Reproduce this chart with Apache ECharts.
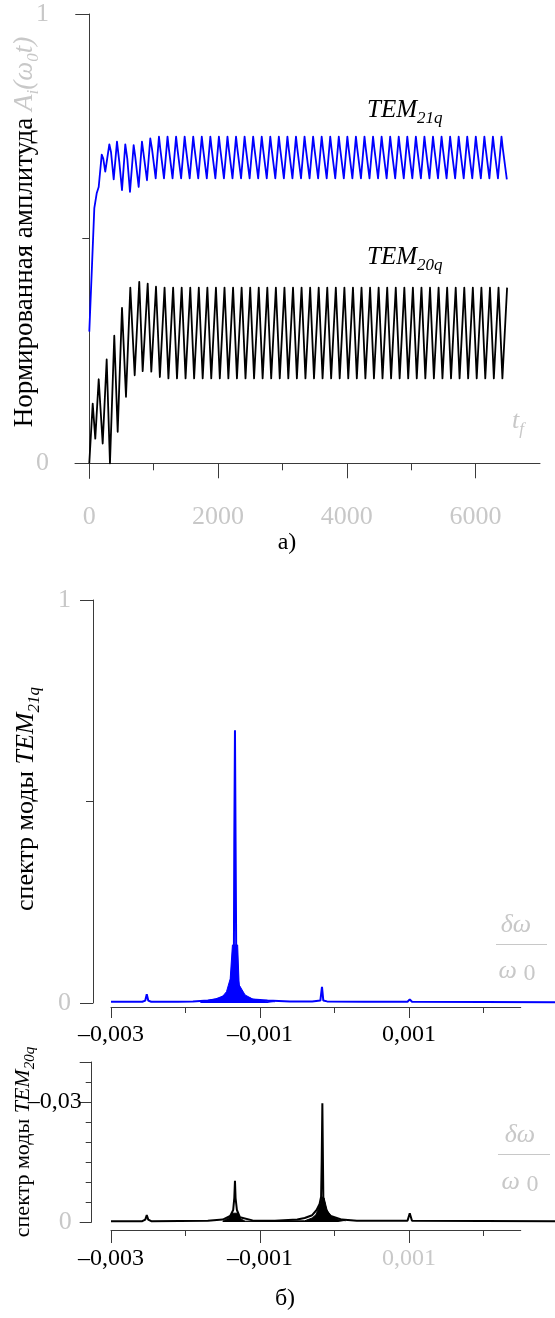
<!DOCTYPE html>
<html lang="ru">
<head>
<meta charset="UTF-8">
<title>Нормированная амплитуда и спектры мод</title>
<script src="https://cdn.jsdelivr.net/npm/echarts@6.0.0/dist/echarts.min.js"></script>
<style>
  html, body { margin: 0; padding: 0; background: #fff; }
  #chart { width: 555px; height: 1318px; }
</style>
</head>
<body>
<div id="chart"></div>
<script>
// а) normalised amplitude vs time, [t, A]
var tem21q = [
  [0,0.293],[42,0.440],[78,0.568],[115,0.601],[146,0.615],[193,0.687],[217,0.678],[248,0.649],[270,0.652],
  [311,0.710],[337,0.693],[379,0.632],[430,0.716],[466,0.671],[508,0.608],[559,0.710],[590,0.678],[632,0.604],
  [689,0.708],[714,0.682],[730,0.678],[767,0.615],[818,0.716],[839,0.693],[860,0.690],[896,0.630],
  [947,0.723],[974,0.700],[1000,0.697],[1031,0.634],
  [1082,0.727],[1102,0.701],[1118,0.705],[1160,0.634],
  [1215,0.727],[1235,0.701],[1251,0.705],[1293,0.634],
  [1348,0.727],[1368,0.701],[1384,0.705],[1426,0.634],
  [1481,0.727],[1501,0.701],[1517,0.705],[1559,0.634],
  [1614,0.727],[1634,0.701],[1650,0.705],[1692,0.634],
  [1747,0.727],[1767,0.701],[1783,0.705],[1825,0.634],
  [1880,0.727],[1900,0.701],[1916,0.705],[1958,0.634],
  [2013,0.727],[2033,0.701],[2049,0.705],[2091,0.634],
  [2146,0.727],[2166,0.701],[2182,0.705],[2224,0.634],
  [2279,0.727],[2299,0.701],[2315,0.705],[2357,0.634],
  [2412,0.727],[2432,0.701],[2448,0.705],[2490,0.634],
  [2545,0.727],[2565,0.701],[2581,0.705],[2623,0.634],
  [2678,0.727],[2698,0.701],[2714,0.705],[2756,0.634],
  [2811,0.727],[2831,0.701],[2847,0.705],[2889,0.634],
  [2944,0.727],[2964,0.701],[2980,0.705],[3022,0.634],
  [3077,0.727],[3097,0.701],[3113,0.705],[3155,0.634],
  [3210,0.727],[3230,0.701],[3246,0.705],[3288,0.634],
  [3343,0.727],[3363,0.701],[3379,0.705],[3421,0.634],
  [3476,0.727],[3496,0.701],[3512,0.705],[3554,0.634],
  [3609,0.727],[3629,0.701],[3645,0.705],[3687,0.634],
  [3742,0.727],[3762,0.701],[3778,0.705],[3820,0.634],
  [3875,0.727],[3895,0.701],[3911,0.705],[3953,0.634],
  [4008,0.727],[4028,0.701],[4044,0.705],[4086,0.634],
  [4141,0.727],[4161,0.701],[4177,0.705],[4219,0.634],
  [4274,0.727],[4294,0.701],[4310,0.705],[4352,0.634],
  [4407,0.727],[4427,0.701],[4443,0.705],[4485,0.634],
  [4540,0.727],[4560,0.701],[4576,0.705],[4618,0.634],
  [4673,0.727],[4693,0.701],[4709,0.705],[4751,0.634],
  [4806,0.727],[4826,0.701],[4842,0.705],[4884,0.634],
  [4939,0.727],[4959,0.701],[4975,0.705],[5017,0.634],
  [5072,0.727],[5092,0.701],[5108,0.705],[5150,0.634],
  [5205,0.727],[5225,0.701],[5241,0.705],[5283,0.634],
  [5338,0.727],[5358,0.701],[5374,0.705],[5416,0.634],
  [5471,0.727],[5491,0.701],[5507,0.705],[5549,0.634],
  [5604,0.727],[5624,0.701],[5640,0.705],[5682,0.634],
  [5737,0.727],[5757,0.701],[5773,0.705],[5815,0.634],
  [5870,0.727],[5890,0.701],[5906,0.705],[5948,0.634],
  [6003,0.727],[6023,0.701],[6039,0.705],[6081,0.634],
  [6136,0.727],[6156,0.701],[6172,0.705],[6214,0.634],
  [6269,0.727],[6289,0.701],[6305,0.705],[6347,0.634],
  [6402,0.727],[6422,0.701],[6438,0.705],[6485,0.632]
];

var tem20q = [
  [0,0],[53,0.133],[93,0.055],[146,0.187],[208,0.044],[270,0.231],[321,0],[388,0.284],[441,0.070],
  [508,0.346],[570,0.148],[637,0.391],[705,0.196],[776,0.404],[829,0.205],[907,0.400],[963,0.204],
  [1036,0.393],[1096,0.192],[1169,0.391],[1229,0.189],[1302,0.391],[1362,0.189],[1435,0.391],[1495,0.189],
  [1568,0.391],[1628,0.189],[1701,0.391],[1761,0.189],[1834,0.391],[1894,0.189],[1967,0.391],[2027,0.189],
  [2100,0.391],[2160,0.189],[2233,0.391],[2293,0.189],[2366,0.391],[2426,0.189],[2499,0.391],[2559,0.189],
  [2632,0.391],[2692,0.189],[2765,0.391],[2825,0.189],[2898,0.391],[2958,0.189],[3031,0.391],[3091,0.189],
  [3164,0.391],[3224,0.189],[3297,0.391],[3357,0.189],[3430,0.391],[3490,0.189],[3563,0.391],[3623,0.189],
  [3696,0.391],[3756,0.189],[3829,0.391],[3889,0.189],[3962,0.391],[4022,0.189],[4095,0.391],[4155,0.189],
  [4228,0.391],[4288,0.189],[4361,0.391],[4421,0.189],[4494,0.391],[4554,0.189],[4627,0.391],[4687,0.189],
  [4760,0.391],[4820,0.189],[4893,0.391],[4953,0.189],[5026,0.391],[5086,0.189],[5159,0.391],[5219,0.189],
  [5292,0.391],[5352,0.189],[5425,0.391],[5485,0.189],[5558,0.391],[5618,0.189],[5691,0.391],[5751,0.189],
  [5824,0.391],[5884,0.189],[5957,0.391],[6017,0.189],[6090,0.391],[6150,0.189],[6223,0.391],[6283,0.189],
  [6356,0.391],[6416,0.189],[6489,0.391]
];

// б) spectra, [δω/ω0, amplitude]
var spec21q = [
  [-0.0030,0.003],[-0.00258,0.003],[-0.00254,0.006],[-0.00252,0.022],[-0.00250,0.006],[-0.00246,0.003],
  [-0.0021,0.003],[-0.0019,0.004],[-0.0017,0.006],[-0.00155,0.010],[-0.00145,0.020],[-0.0014,0.040],
  [-0.00137,0.090],[-0.00135,0.144],[-0.001345,0.40],[-0.001336,0.677],[-0.001328,0.40],[-0.00132,0.144],
  [-0.0013,0.060],[-0.00127,0.030],[-0.0012,0.015],[-0.0011,0.009],[-0.0009,0.006],[-0.0006,0.004],
  [-0.0003,0.004],[-0.00019,0.006],[-0.000168,0.040],[-0.00015,0.006],[-0.0001,0.004],[0.0004,0.003],
  [0.00098,0.003],[0.00101,0.009],[0.00104,0.003],[0.0030,0.002]
];
var spec21qBand = [
  [-0.0018,0.003],[-0.0017,0.006],[-0.0016,0.010],[-0.0015,0.017],[-0.00145,0.028],[-0.0014,0.060],
  [-0.00137,0.144],[-0.0013,0.144],[-0.00128,0.045],[-0.0012,0.020],[-0.0011,0.010],[-0.0009,0.004],
  [-0.0008,0.003]
];
var spec20q = [
  [-0.0030,0.0002],[-0.00258,0.0002],[-0.00254,0.0006],[-0.00252,0.00175],[-0.00250,0.0006],[-0.00246,0.0002],
  [-0.0017,0.0003],[-0.0015,0.0006],[-0.0014,0.0015],[-0.00136,0.003],[-0.001345,0.006],[-0.001336,0.0103],
  [-0.001328,0.006],[-0.00131,0.003],[-0.00127,0.0012],[-0.0011,0.0004],[-0.0008,0.0003],[-0.0005,0.0006],
  [-0.0004,0.0010],[-0.0003,0.0017],[-0.00024,0.0030],[-0.0002,0.0045],[-0.00018,0.0063],[-0.000172,0.015],
  [-0.000163,0.0297],[-0.000155,0.015],[-0.00015,0.0063],[-0.00013,0.0040],[-0.0001,0.0025],[-0.00005,0.0015],
  [0.0001,0.0006],[0.0003,0.0003],[0.00098,0.0003],[0.00101,0.0022],[0.00104,0.0003],[0.0030,0.0002]
];
var spec20qBand = [
  [-0.0015,0.0002],[-0.00142,0.0010],[-0.00138,0.0022],[-0.0013,0.0022],[-0.00126,0.0008],[-0.0012,0.0002],
  [-0.0004,0.0003],[-0.0003,0.0010],[-0.00025,0.0018],[-0.0002,0.0040],[-0.00017,0.0063],
  [-0.00014,0.0060],[-0.0001,0.0030],[-0.00005,0.0015],[0.00005,0.0006],[0.00015,0.0003]
];

// ticks
var timeTicks = [0, 2000, 4000, 6000];
var timeMinorTicks = [1000, 3000, 5000];
var ampTicks = [0, 1];
var ampMinorTicks = [0.5];
var freqTicks = [-0.003, -0.001, 0.001];
var freqMinorTicks = [-0.002, 0, 0.002];
var spec20Ticks = [0, 0.03, 0.04];
var spec20Labels = [0, 0.03];
var spec20MinorTicks = [0.005, 0.01, 0.015, 0.02, 0.025, 0.035];

var serif = '"Liberation Serif", "Times New Roman", serif';
var grey = '#c8c8c8';
var axisCol = '#3a3a3a';
var blue = '#0000ff';

function commaLabel(v) {
  var s = Math.abs(v).toFixed(3).replace('.', ',');
  return (v < 0 ? '–' : '') + s;
}

function hidden(grid, min, max) {
  return { gridIndex: grid, type: 'value', show: false, min: min || 0, max: max || 1 };
}

// axis that only draws ticks (and optionally its line) in a helper grid
function tickOnly(grid, min, max, ticks, len, withLine, pos) {
  return {
    gridIndex: grid, type: 'value', min: min, max: max, position: pos,
    axisLine: { show: withLine, onZero: false, lineStyle: { color: axisCol, width: 1 } },
    axisTick: { show: true, customValues: ticks, length: len, lineStyle: { color: axisCol, width: 1 } },
    axisLabel: { show: false }, splitLine: { show: false }
  };
}

var chart = echarts.init(document.getElementById('chart'), null, { renderer: 'canvas' });

var option = {
  animation: false,
  backgroundColor: '#fff',
  grid: [
    { left: 75, top: 14, width: 465, height: 464.3, outerBoundsMode: 'none' },
    { left: 75, top: 453.3, width: 465, height: 10, outerBoundsMode: 'none' },
    { left: 89.3, top: 14, width: 10, height: 464.3, outerBoundsMode: 'none' },
    // б) upper: data grid runs to 0.003, axis line only to 0.0025
    { left: 111, top: 600, width: 447, height: 403, outerBoundsMode: 'none' },
    { left: 111, top: 997, width: 409.75, height: 10, outerBoundsMode: 'none' },
    { left: 93, top: 600, width: 10, height: 403, outerBoundsMode: 'none' },
    // б) lower
    { left: 111, top: 1062, width: 447, height: 160, outerBoundsMode: 'none' },
    { left: 111, top: 1220, width: 409.75, height: 10, outerBoundsMode: 'none' },
    { left: 91.7, top: 1062, width: 10, height: 160, outerBoundsMode: 'none' }
  ],
  xAxis: [
    {
      gridIndex: 0, type: 'value', min: -222, max: 7000,
      axisLine: { show: true, onZero: true, lineStyle: { color: axisCol, width: 1 } },
      axisTick: { show: true, customValues: timeTicks, length: 15, lineStyle: { color: axisCol, width: 1 } },
      axisLabel: { show: true, customValues: timeTicks, margin: 26, color: grey, fontFamily: serif, fontSize: 26,
        formatter: function (v) { return String(v); } },
      splitLine: { show: false }
    },
    tickOnly(1, -222, 7000, timeMinorTicks, 7, false, 'bottom'),
    hidden(2),
    {
      gridIndex: 3, type: 'value', min: -0.003, max: 0.003, offset: 4,
      axisLine: { show: false, onZero: false },
      axisTick: { show: true, customValues: freqTicks, length: 11, lineStyle: { color: axisCol, width: 1 } },
      axisLabel: { show: true, customValues: freqTicks, margin: 16, color: '#000', fontFamily: serif, fontSize: 24,
        formatter: commaLabel },
      splitLine: { show: false }
    },
    tickOnly(4, -0.003, 0.0025, freqMinorTicks, 6, true, 'bottom'),
    hidden(5),
    {
      gridIndex: 6, type: 'value', min: -0.003, max: 0.003, offset: 8,
      axisLine: { show: false, onZero: false },
      axisTick: { show: true, customValues: freqTicks, length: 13, lineStyle: { color: axisCol, width: 1 } },
      axisLabel: { show: true, customValues: freqTicks, margin: 17, color: '#000', fontFamily: serif, fontSize: 24,
        formatter: function (v) { return v > 0 ? '{g|' + commaLabel(v) + '}' : commaLabel(v); },
        rich: { g: { color: grey, fontFamily: serif, fontSize: 24 } } },
      splitLine: { show: false }
    },
    tickOnly(7, -0.003, 0.0025, freqMinorTicks, 6, true, 'bottom'),
    hidden(8)
  ],
  yAxis: [
    {
      gridIndex: 0, type: 'value', min: -0.0334, max: 1,
      axisLine: { show: true, onZero: true, lineStyle: { color: axisCol, width: 1 } },
      axisTick: { show: true, customValues: ampTicks, length: 14, lineStyle: { color: axisCol, width: 1 } },
      axisLabel: { show: true, customValues: ampTicks, margin: 26, color: grey, fontFamily: serif, fontSize: 26,
        formatter: function (v) { return String(v); } },
      splitLine: { show: false }
    },
    hidden(1),
    tickOnly(2, -0.0334, 1, ampMinorTicks, 7, false, 'left'),
    {
      gridIndex: 3, type: 'value', min: 0, max: 1, offset: 18,
      axisLine: { show: true, onZero: false, lineStyle: { color: axisCol, width: 1 } },
      axisTick: { show: true, customValues: ampTicks, length: 13, lineStyle: { color: axisCol, width: 1 } },
      axisLabel: { show: true, customValues: ampTicks, margin: 22, color: grey, fontFamily: serif, fontSize: 26,
        formatter: function (v) { return String(v); } },
      splitLine: { show: false }
    },
    hidden(4),
    tickOnly(5, 0, 1, ampMinorTicks, 7, false, 'left'),
    {
      gridIndex: 6, type: 'value', min: 0, max: 0.04, offset: 19.3,
      axisLine: { show: true, onZero: false, lineStyle: { color: axisCol, width: 1 } },
      axisTick: { show: true, customValues: spec20Ticks, length: 12, lineStyle: { color: axisCol, width: 1 } },
      axisLabel: { show: true, customValues: spec20Labels, margin: 10, color: '#000', fontFamily: serif, fontSize: 24,
        formatter: function (v) { return v === 0 ? '{z|0}' : '–0,03'; },
        rich: { z: { color: grey, fontFamily: serif, fontSize: 26, padding: [0, 10, 0, 0] } } },
      splitLine: { show: false }
    },
    hidden(7),
    tickOnly(8, 0, 0.04, spec20MinorTicks, 6, false, 'left')
  ],
  series: [
    { type: 'line', name: 'TEM21q', xAxisIndex: 0, yAxisIndex: 0, data: tem21q, showSymbol: false,
      lineStyle: { color: blue, width: 1.8, join: 'round' }, itemStyle: { color: blue } },
    { type: 'line', name: 'TEM20q', xAxisIndex: 0, yAxisIndex: 0, data: tem20q, showSymbol: false,
      lineStyle: { color: '#000', width: 1.8, join: 'round' }, itemStyle: { color: '#000' } },
    { type: 'line', xAxisIndex: 3, yAxisIndex: 3, data: spec21qBand, showSymbol: false,
      lineStyle: { color: blue, width: 1 }, areaStyle: { color: blue, opacity: 1 }, itemStyle: { color: blue } },
    { type: 'line', xAxisIndex: 3, yAxisIndex: 3, data: spec21q, showSymbol: false,
      lineStyle: { color: blue, width: 2 }, itemStyle: { color: blue } },
    { type: 'line', xAxisIndex: 6, yAxisIndex: 6, data: spec20qBand, showSymbol: false,
      lineStyle: { color: '#000', width: 1 }, areaStyle: { color: '#000', opacity: 1 }, itemStyle: { color: '#000' } },
    { type: 'line', xAxisIndex: 6, yAxisIndex: 6, data: spec20q, showSymbol: false,
      lineStyle: { color: '#000', width: 2 }, itemStyle: { color: '#000' } }
  ],
  graphic: {
    elements: [
      // y name, chart а)
      { type: 'text', x: 25, y: 232, rotation: Math.PI / 2, silent: true,
        style: {
          text: '{b|Нормированная амплитуда}  {g|A}{gs|i}{g|(ω}{gs|0}{g|t)}',
          align: 'center', verticalAlign: 'middle', textAlign: 'center', textVerticalAlign: 'middle',
          rich: {
            b: { fill: '#000', fontFamily: serif, fontSize: 27, lineHeight: 34 },
            g: { fill: grey, fontFamily: serif, fontStyle: 'italic', fontSize: 27, lineHeight: 34 },
            gs: { fill: grey, fontFamily: serif, fontStyle: 'italic', fontSize: 17, lineHeight: 17, verticalAlign: 'bottom' }
          }
        } },
      { type: 'text', x: 367, y: 110.5, silent: true,
        style: {
          text: '{t|TEM}{s|21q}', align: 'left', verticalAlign: 'middle', textAlign: 'left', textVerticalAlign: 'middle',
          rich: {
            t: { fill: '#000', fontFamily: serif, fontStyle: 'italic', fontSize: 25, lineHeight: 34 },
            s: { fill: '#000', fontFamily: serif, fontStyle: 'italic', fontSize: 17, lineHeight: 17, verticalAlign: 'bottom' }
          }
        } },
      { type: 'text', x: 367, y: 257.5, silent: true,
        style: {
          text: '{t|TEM}{s|20q}', align: 'left', verticalAlign: 'middle', textAlign: 'left', textVerticalAlign: 'middle',
          rich: {
            t: { fill: '#000', fontFamily: serif, fontStyle: 'italic', fontSize: 25, lineHeight: 34 },
            s: { fill: '#000', fontFamily: serif, fontStyle: 'italic', fontSize: 17, lineHeight: 17, verticalAlign: 'bottom' }
          }
        } },
      { type: 'text', x: 512, y: 421, silent: true,
        style: {
          text: '{t|t}{s|f}', align: 'left', verticalAlign: 'middle', textAlign: 'left', textVerticalAlign: 'middle',
          rich: {
            t: { fill: grey, fontFamily: serif, fontStyle: 'italic', fontSize: 26, lineHeight: 34 },
            s: { fill: grey, fontFamily: serif, fontStyle: 'italic', fontSize: 17, lineHeight: 17, verticalAlign: 'bottom' }
          }
        } },
      { type: 'text', x: 287, y: 543, silent: true,
        style: { text: 'а)', fill: '#000', font: '24px ' + serif, align: 'center', verticalAlign: 'middle',
          textAlign: 'center', textVerticalAlign: 'middle' } },

      // chart б), upper spectrum
      { type: 'text', x: 26, y: 799, rotation: Math.PI / 2, silent: true,
        style: {
          text: '{b|спектр моды }{i|TEM}{s|21q}',
          align: 'center', verticalAlign: 'middle', textAlign: 'center', textVerticalAlign: 'middle',
          rich: {
            b: { fill: '#000', fontFamily: serif, fontSize: 26, lineHeight: 34 },
            i: { fill: '#000', fontFamily: serif, fontStyle: 'italic', fontSize: 26, lineHeight: 34 },
            s: { fill: '#000', fontFamily: serif, fontStyle: 'italic', fontSize: 17, lineHeight: 17, verticalAlign: 'bottom' }
          }
        } },
      { type: 'text', x: 516, y: 925, silent: true,
        style: { text: 'δω', fill: grey, font: 'italic 26px ' + serif, align: 'center', verticalAlign: 'middle',
          textAlign: 'center', textVerticalAlign: 'middle' } },
      { type: 'line', silent: true, shape: { x1: 496, y1: 944.5, x2: 547, y2: 944.5 }, style: { stroke: grey, lineWidth: 1 } },
      { type: 'text', x: 517, y: 971, silent: true,
        style: {
          text: '{w|ω}  {z|0}', align: 'center', verticalAlign: 'middle', textAlign: 'center', textVerticalAlign: 'middle',
          rich: {
            w: { fill: grey, fontFamily: serif, fontStyle: 'italic', fontSize: 26, lineHeight: 30 },
            z: { fill: grey, fontFamily: serif, fontSize: 24, lineHeight: 24, verticalAlign: 'bottom' }
          }
        } },

      // lower spectrum
      { type: 'text', x: 23, y: 1142, rotation: Math.PI / 2, silent: true,
        style: {
          text: '{b|спектр моды }{i|TEM}{s|20q}',
          align: 'center', verticalAlign: 'middle', textAlign: 'center', textVerticalAlign: 'middle',
          rich: {
            b: { fill: '#000', fontFamily: serif, fontSize: 22, lineHeight: 30 },
            i: { fill: '#000', fontFamily: serif, fontStyle: 'italic', fontSize: 22, lineHeight: 30 },
            s: { fill: '#000', fontFamily: serif, fontStyle: 'italic', fontSize: 15, lineHeight: 15, verticalAlign: 'bottom' }
          }
        } },
      { type: 'text', x: 520, y: 1135, silent: true,
        style: { text: 'δω', fill: grey, font: 'italic 26px ' + serif, align: 'center', verticalAlign: 'middle',
          textAlign: 'center', textVerticalAlign: 'middle' } },
      { type: 'line', silent: true, shape: { x1: 498, y1: 1154.5, x2: 550, y2: 1154.5 }, style: { stroke: grey, lineWidth: 1 } },
      { type: 'text', x: 520, y: 1182, silent: true,
        style: {
          text: '{w|ω}  {z|0}', align: 'center', verticalAlign: 'middle', textAlign: 'center', textVerticalAlign: 'middle',
          rich: {
            w: { fill: grey, fontFamily: serif, fontStyle: 'italic', fontSize: 26, lineHeight: 30 },
            z: { fill: grey, fontFamily: serif, fontSize: 24, lineHeight: 24, verticalAlign: 'bottom' }
          }
        } },
      { type: 'text', x: 285, y: 1299, silent: true,
        style: { text: 'б)', fill: '#000', font: '24px ' + serif, align: 'center', verticalAlign: 'middle',
          textAlign: 'center', textVerticalAlign: 'middle' } }
    ]
  }
};

chart.setOption(option);
</script>
</body>
</html>
